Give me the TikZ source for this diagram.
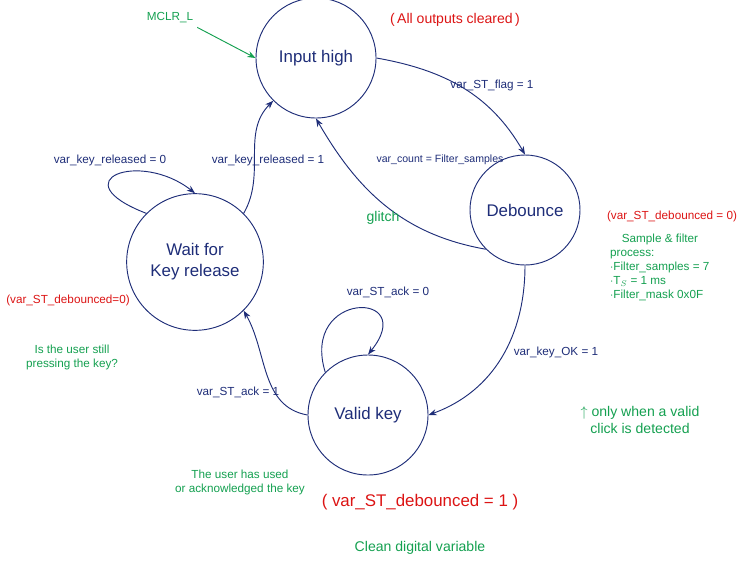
\documentclass[tikz,border=0pt]{standalone}
\usepackage{fontspec}
\setmainfont{Liberation Sans}
\usetikzlibrary{arrows.meta}
\definecolor{bl}{RGB}{30,45,120}
\definecolor{gr}{RGB}{20,160,80}
\definecolor{rd}{RGB}{220,20,20}
\begin{document}
\begin{tikzpicture}[x=0.03cm,y=-0.03cm,
  st/.style={circle,draw=bl,thick,text=bl,font=\Large,align=center},
  tr/.style={draw=bl,thick,-{Stealth[length=7pt]}},
  lb/.style={text=bl,font=\normalsize},
  gn/.style={text=gr,font=\normalsize,align=center},
  rn/.style={text=rd,font=\normalsize}]
\useasboundingbox (0,0) rectangle (755,579);
\node[st,minimum size=3.6cm] (ih) at (316,58) {Input high};
\node[st,minimum size=3.3cm] (db) at (525,210) {Debounce};
\node[st,minimum size=4.1cm] (wk) at (195,262) {Wait for\\Key release};
\node[st,minimum size=3.6cm] (vk) at (368,415) {Valid key};
\node[text=gr] (mclr) at (170,18) {MCLR\_L};
\draw[draw=gr,thick,-{Stealth[length=7pt]}] (mclr.south east) -- (ih.west);
\draw[tr] (ih.east) to[out=-10,in=120] (db.north);
\node[lb] (l1) at (492,85) {var\_ST\_flag = 1};
\draw[tr] (db.south west) to[out=170,in=-60] (ih.south);
\node[lb,font=\small] (l2) at (440,160) {var\_count = Filter\_samples};
\node[text=gr,font=\large] (gl) at (383,218) {glitch};
\draw[tr] (db.south) to[out=-90,in=20] (vk.east);
\node[lb] (l3) at (556,352) {var\_key\_OK = 1};
\draw[tr] (vk.west) to[out=170,in=-60] (wk.south east);
\node[lb] (l4) at (238,392) {var\_ST\_ack = 1};
\draw[tr] (wk.north east) to[out=60,in=-135] (ih.south west);
\node[lb] (l5) at (268,160) {var\_key\_released = 1};
\draw[tr] (wk.north west) .. controls (60,180) and (140,150) .. (wk.north);
\node[lb] (l6) at (110,160) {var\_key\_released = 0};
\draw[tr] (vk.north west) .. controls (300,290) and (420,290) .. (vk.north);
\node[lb] (l7) at (388,292) {var\_ST\_ack = 0};
\node[rn,font=\large] (n1) at (455,20) {(\,All outputs cleared\,)};
\node[rn] (n2) at (672,216) {(var\_ST\_debounced = 0)};
\node[gn,align=left,anchor=north west] (n3) at (606,230) {\quad Sample \& filter\\ process:\\ $\cdot$Filter\_samples = 7\\ $\cdot$T$_S$ = 1 ms\\ $\cdot$Filter\_mask 0x0F};
\node[rn] (n4) at (68,300) {(var\_ST\_debounced=0)};
\node[gn] (n5) at (72,357) {Is the user still\\pressing the key?};
\node[gn,font=\large] (n6) at (640,420) {$\uparrow$ only when a valid\\click is detected};
\node[gn] (n7) at (240,482) {The user has used\\or acknowledged the key};
\node[rn,font=\Large] (n8) at (420,502) {(\;var\_ST\_debounced = 1\;)};
\node[gn,font=\large] (n9) at (420,548) {Clean digital variable};
\end{tikzpicture}
\end{document}
